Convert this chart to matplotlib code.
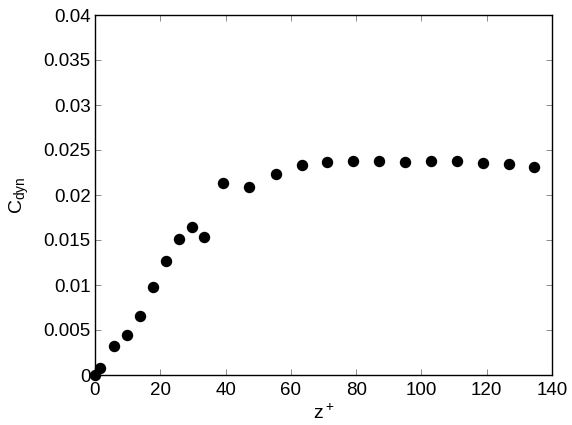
import matplotlib
matplotlib.use("Agg")
import matplotlib.pyplot as plt

z_plus = [0.0, 1.6, 5.7, 9.7, 13.7, 17.7, 21.6, 25.6, 29.6, 33.5,
          39.3, 47.3, 55.3, 63.3, 71.1, 79.0, 87.0, 95.0, 102.9, 110.9,
          118.8, 126.7, 134.6]
c_dyn = [0.0, 0.00081, 0.0032, 0.0044, 0.0066, 0.0098, 0.0127, 0.0151, 0.0164, 0.0153,
         0.0213, 0.0209, 0.0223, 0.0233, 0.0237, 0.0238, 0.0238, 0.0237, 0.0238, 0.0238,
         0.0236, 0.0234, 0.0231]

x_ticks = [0, 20, 40, 60, 80, 100, 120, 140]
y_ticks = [0, 0.005, 0.01, 0.015, 0.02, 0.025, 0.03, 0.035, 0.04]
y_ticklabels = ["0", "0.005", "0.01", "0.015", "0.02", "0.025", "0.03", "0.035", "0.04"]

plt.rcParams['font.family'] = ['Liberation Sans', 'DejaVu Sans']
plt.rcParams['mathtext.fontset'] = 'custom'
plt.rcParams['mathtext.rm'] = 'Liberation Sans'
plt.rcParams['mathtext.it'] = 'Liberation Sans'

fig = plt.figure(figsize=(5.72, 4.25), dpi=100)
ax = fig.add_axes([95/572, 50/425, 457/572, 360/425])
ax.plot(z_plus, c_dyn, 'o', color='black', markersize=7.2, clip_on=False, zorder=3)
ax.set_xlim(0, 140)
ax.set_ylim(0, 0.04)
ax.set_xticks(x_ticks)
ax.set_yticks(y_ticks)
ax.set_yticklabels(y_ticklabels)
ax.tick_params(direction='in', length=4, width=0.6, top=True, right=True,
               labelsize=13.5, labelcolor='black', color='#777777')
ax.tick_params(axis='x', pad=5)
ax.tick_params(axis='y', pad=3)
for s in ax.spines.values():
    s.set_linewidth(1.0)
ax.set_xlabel(r'$\mathregular{z^+}$', fontsize=14, labelpad=3)
ax.set_ylabel(r'$\mathregular{C_{dyn}}$', fontsize=14, labelpad=9)
fig.savefig('out.png', dpi=100)
